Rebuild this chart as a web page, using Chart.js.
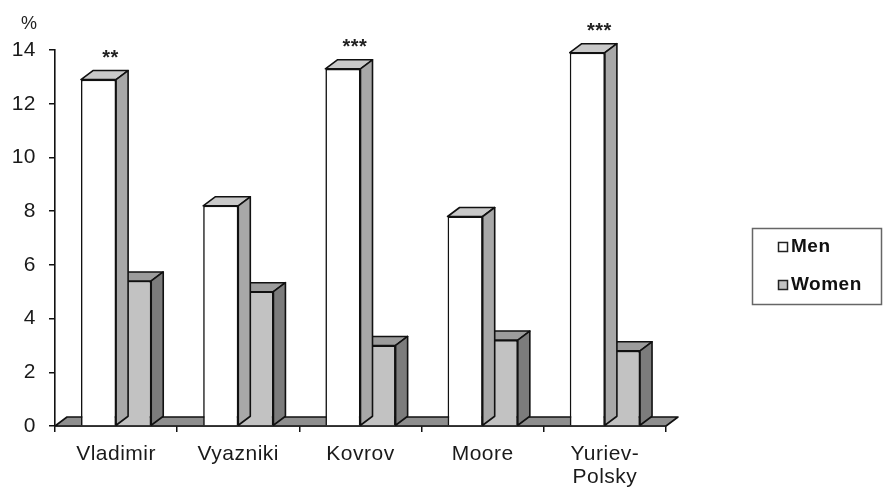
<!DOCTYPE html>
<html>
<head>
<meta charset="utf-8">
<title>Men and women by town</title>
<script src="https://cdn.jsdelivr.net/npm/chart.js@4.4.1/dist/chart.umd.min.js"></script>
<style>
  html, body { margin: 0; padding: 0; background: #ffffff; }
  #wrap { width: 884px; height: 487px; }
</style>
</head>
<body>
<div id="wrap"><canvas id="chart" width="884" height="487"></canvas></div>
<script>
// Towns along the x axis (Yuriev-Polsky wraps onto two lines)
const categories = ['Vladimir', 'Vyazniki', 'Kovrov', 'Moore', ['Yuriev-', 'Polsky']];
// Percentages per town
const menValues = [12.9, 8.2, 13.3, 7.8, 13.9];
const womenValues = [5.4, 5.0, 3.0, 3.2, 2.8];
// Significance marks shown above the men's bars
const significance = ['**', '', '***', '', '***'];
// Value axis range
const yMin = 0, yMax = 14, yStep = 2;

const FONT = "'Liberation Sans', Arial, Helvetica, sans-serif";
const DEPTH_X = 12, DEPTH_Y = 9;
const LETTER_SPACING = '0.5px';

function poly(ctx, pts, fill) {
  ctx.beginPath();
  ctx.moveTo(pts[0][0], pts[0][1]);
  for (let i = 1; i < pts.length; i++) ctx.lineTo(pts[i][0], pts[i][1]);
  ctx.closePath();
  ctx.fillStyle = fill;
  ctx.fill();
  ctx.lineJoin = 'round';
  ctx.lineWidth = 1.6;
  ctx.strokeStyle = '#111';
  ctx.stroke();
}

// Slightly open letter spacing for all chart text
function setSpacing(chart) {
  if ('letterSpacing' in chart.ctx) chart.ctx.letterSpacing = LETTER_SPACING;
}
const spacing = {
  id: 'spacing',
  beforeInit: setSpacing,
  beforeUpdate: setSpacing,
  beforeDraw: setSpacing
};

// Pseudo-3D: floor slab, top and side faces of every bar
const box3d = {
  id: 'box3d',
  beforeDatasetsDraw(chart) {
    const { ctx, chartArea: a } = chart;
    const base = chart.scales.y.getPixelForValue(0);
    ctx.save();
    poly(ctx, [[a.left, base], [a.right, base], [a.right + DEPTH_X, base - DEPTH_Y], [a.left + DEPTH_X, base - DEPTH_Y]], '#8e8e8e');
    ctx.restore();
  },
  afterDatasetDraw(chart, args) {
    const ds = chart.data.datasets[args.index];
    const { ctx } = chart;
    ctx.save();
    args.meta.data.forEach(bar => {
      const p = bar.getProps(['x', 'y', 'base', 'width'], true);
      const l = p.x - p.width / 2, r = p.x + p.width / 2;
      poly(ctx, [[l, p.y], [r, p.y], [r + DEPTH_X, p.y - DEPTH_Y], [l + DEPTH_X, p.y - DEPTH_Y]], ds.topColor);
      poly(ctx, [[r, p.y], [r + DEPTH_X, p.y - DEPTH_Y], [r + DEPTH_X, p.base - DEPTH_Y], [r, p.base]], ds.sideColor);
    });
    ctx.restore();
  },
  afterDatasetsDraw(chart) {
    const { ctx } = chart;
    ctx.save();
    ctx.fillStyle = '#222';
    ctx.font = 'bold 20px ' + FONT;
    ctx.textAlign = 'center';
    ctx.textBaseline = 'alphabetic';
    chart.getDatasetMeta(0).data.forEach((bar, i) => {
      if (!significance[i]) return;
      ctx.fillText(significance[i], bar.x + 12, bar.y - 16);
    });
    ctx.restore();
  },
  afterDraw(chart) {
    const { ctx } = chart;
    ctx.save();
    // unit label above the value axis
    ctx.fillStyle = '#222';
    ctx.font = '18px ' + FONT;
    ctx.textAlign = 'left';
    ctx.textBaseline = 'middle';
    ctx.fillText('%', 21, 24);
    // legend box
    ctx.strokeStyle = '#666';
    ctx.lineWidth = 1.5;
    ctx.strokeRect(752.5, 228.5, 129, 76);
    ctx.font = 'bold 19px ' + FONT;
    chart.data.datasets.forEach((ds, i) => {
      const cy = 247 + i * 38;
      ctx.fillStyle = ds.backgroundColor;
      ctx.fillRect(778, cy - 5, 10, 10);
      ctx.strokeStyle = '#222';
      ctx.lineWidth = 1.5;
      ctx.strokeRect(778.5, cy - 4.5, 9, 9);
      ctx.fillStyle = '#111';
      ctx.fillText(ds.label, 791, cy);
    });
    ctx.restore();
  }
};

new Chart(document.getElementById('chart'), {
  type: 'bar',
  data: {
    labels: categories,
    datasets: [
      {
        label: 'Men', data: menValues,
        backgroundColor: '#ffffff', topColor: '#c9c9c9', sideColor: '#a8a8a8',
        borderColor: '#111', borderWidth: 1.6,
        categoryPercentage: 0.575, barPercentage: 1
      },
      {
        label: 'Women', data: womenValues,
        backgroundColor: '#c2c2c2', topColor: '#9c9c9c', sideColor: '#7c7c7c',
        borderColor: '#111', borderWidth: 1.6,
        categoryPercentage: 0.575, barPercentage: 1
      }
    ]
  },
  options: {
    responsive: false,
    animation: false,
    layout: { padding: { top: 50, right: 218, left: 0, bottom: 0 } },
    plugins: { legend: { display: false }, tooltip: { enabled: false } },
    scales: {
      x: {
        offset: true,
        grid: { display: true, offset: true, drawOnChartArea: false, drawTicks: true, tickLength: 6, color: '#111', lineWidth: 1.5 },
        border: { display: true, color: '#111', width: 1.6 },
        ticks: { color: '#1a1a1a', padding: 11, maxRotation: 0, autoSkip: false, font: { family: FONT, size: 21, lineHeight: 1.1 } },
        afterFit(scale) { scale.height = 61; }
      },
      y: {
        min: yMin, max: yMax,
        grid: { display: true, drawOnChartArea: false, drawTicks: true, tickLength: 6, color: '#111', lineWidth: 1.5 },
        border: { display: true, color: '#111', width: 1.6 },
        ticks: { stepSize: yStep, color: '#1a1a1a', padding: 13, font: { family: FONT, size: 21 } },
        afterFit(scale) { scale.width = 55; }
      }
    }
  },
  plugins: [spacing, box3d]
});
</script>
</body>
</html>
